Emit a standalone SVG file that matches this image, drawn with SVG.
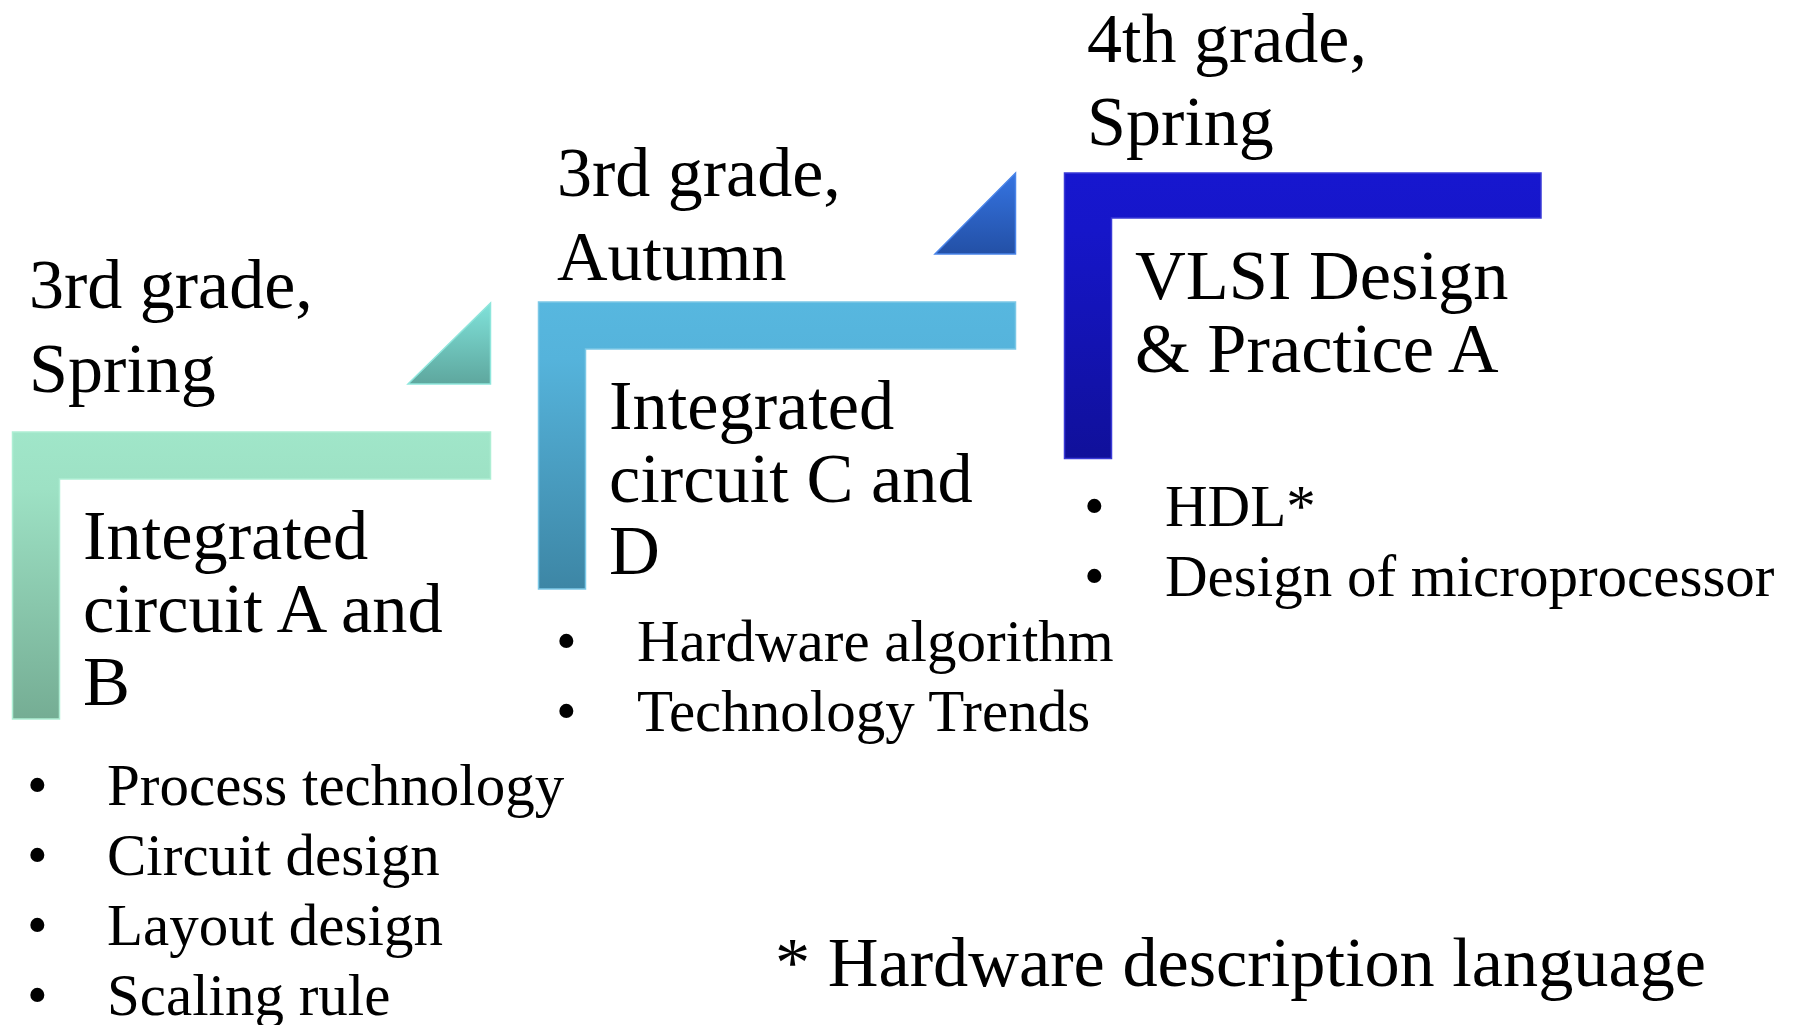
<svg xmlns="http://www.w3.org/2000/svg" width="1793" height="1025" viewBox="0 0 1793 1025">
  <defs>
    <linearGradient id="gGreen" x1="0" y1="0" x2="0" y2="1">
      <stop offset="0" stop-color="#a0e6c9"/>
      <stop offset="0.2" stop-color="#9de1c4"/>
      <stop offset="1" stop-color="#75ad94"/>
    </linearGradient>
    <linearGradient id="gGreenTri" x1="0" y1="0" x2="0" y2="1">
      <stop offset="0" stop-color="#80e2da"/>
      <stop offset="1" stop-color="#5ea79e"/>
    </linearGradient>
    <linearGradient id="gBlue" x1="0" y1="0" x2="0" y2="1">
      <stop offset="0" stop-color="#57b7df"/>
      <stop offset="0.2" stop-color="#55b3db"/>
      <stop offset="1" stop-color="#3d86a5"/>
    </linearGradient>
    <linearGradient id="gBlueTri" x1="0" y1="0" x2="0" y2="1">
      <stop offset="0" stop-color="#3574e2"/>
      <stop offset="1" stop-color="#2350a6"/>
    </linearGradient>
    <linearGradient id="gNavy" x1="0" y1="0" x2="0" y2="1">
      <stop offset="0" stop-color="#1717cf"/>
      <stop offset="0.2" stop-color="#1616c9"/>
      <stop offset="1" stop-color="#10109a"/>
    </linearGradient>
    <style>
      text { font-family: "Liberation Serif", "Times New Roman", serif; fill: #000; }
      .head { font-size: 70px; }
      .title { font-size: 70.4px; }
      .item { font-size: 59px; }
      .note { font-size: 70.3px; }
      .bend { stroke-width: 1.5; }
    </style>
  </defs>

  <!-- step markers between stages -->
  <g id="connectors">
    <polygon points="490.5,303 490.5,384 408,384" fill="url(#gGreenTri)" stroke="#8ee6dc" stroke-width="1.5"/>
    <polygon points="1015.5,173 1015.5,254 935,254" fill="url(#gBlueTri)" stroke="#4a84e8" stroke-width="1.5"/>
  </g>

  <!-- stage 1: 3rd grade, Spring -->
  <g id="stage-ic-ab">
    <path class="bend" d="M12.5,432 H490.5 V479 H59.5 V719 H12.5 Z" fill="url(#gGreen)" stroke="#aeeed4"/>
    <text class="head" x="29" y="308">3rd grade,</text>
    <text class="head" x="29" y="392">Spring</text>
    <text class="title" x="83" y="559">Integrated</text>
    <text class="title" x="83" y="632">circuit A and</text>
    <text class="title" x="83" y="705">B</text>
    <text class="item" x="27" y="805">•</text>
    <text class="item" x="107" y="805">Process technology</text>
    <text class="item" x="27" y="875">•</text>
    <text class="item" x="107" y="875">Circuit design</text>
    <text class="item" x="27" y="945">•</text>
    <text class="item" x="107" y="945">Layout design</text>
    <text class="item" x="27" y="1015">•</text>
    <text class="item" x="107" y="1015">Scaling rule</text>
  </g>

  <!-- stage 2: 3rd grade, Autumn -->
  <g id="stage-ic-cd">
    <path class="bend" d="M538.5,302 H1015.5 V349 H585.5 V589 H538.5 Z" fill="url(#gBlue)" stroke="#7cc8e6"/>
    <text class="head" x="557" y="196">3rd grade,</text>
    <text class="head" x="557" y="280">Autumn</text>
    <text class="title" x="609" y="429">Integrated</text>
    <text class="title" x="609" y="502">circuit C and</text>
    <text class="title" x="609" y="574">D</text>
    <text class="item" x="556" y="661">•</text>
    <text class="item" x="637" y="661">Hardware algorithm</text>
    <text class="item" x="556" y="731">•</text>
    <text class="item" x="637" y="731">Technology Trends</text>
  </g>

  <!-- stage 3: 4th grade, Spring -->
  <g id="stage-vlsi">
    <path class="bend" d="M1064.5,173 H1541 V218 H1111.5 V458.5 H1064.5 Z" fill="url(#gNavy)" stroke="#3a3ad6"/>
    <text class="head" x="1087" y="62">4th grade,</text>
    <text class="head" x="1087" y="145">Spring</text>
    <text class="title" x="1135" y="299">VLSI Design</text>
    <text class="title" x="1135" y="372">&amp; Practice A</text>
    <text class="item" x="1084" y="526">•</text>
    <text class="item" x="1165" y="526">HDL*</text>
    <text class="item" x="1084" y="596">•</text>
    <text class="item" x="1165" y="596">Design of microprocessor</text>
  </g>

  <!-- footnote -->
  <g id="footnote">
    <text class="note" x="775" y="986">* Hardware description language</text>
  </g>
</svg>
